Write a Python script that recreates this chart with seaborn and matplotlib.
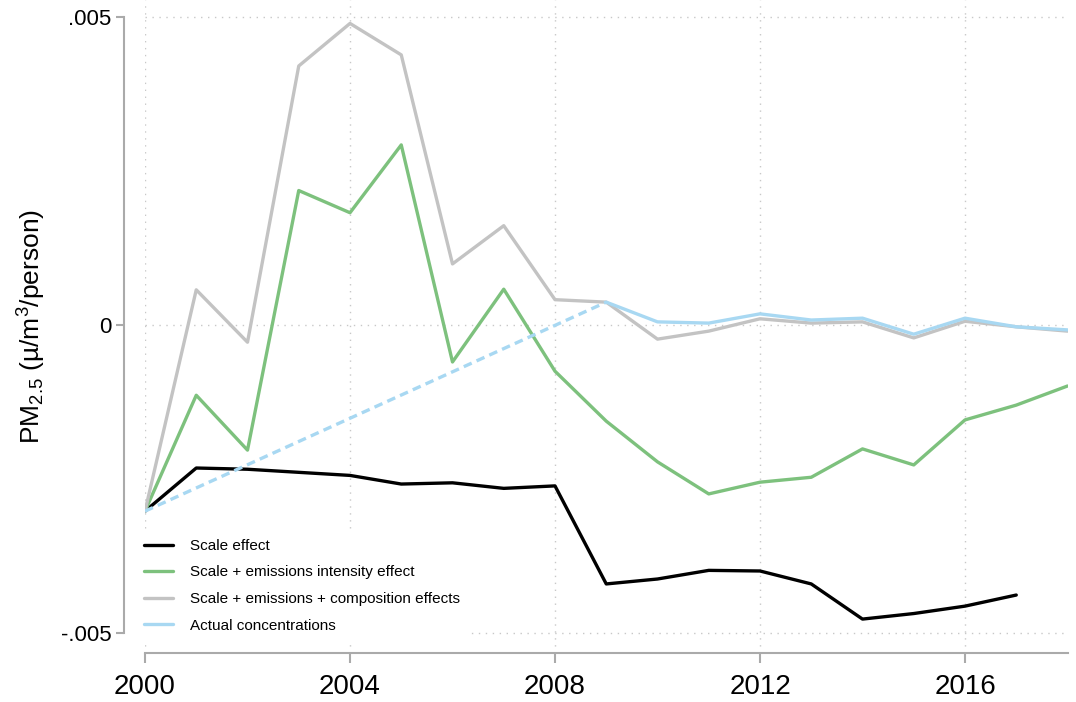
import numpy as np
import pandas as pd
import matplotlib
matplotlib.use("Agg")
import matplotlib.pyplot as plt
import seaborn as sns

years = list(range(2000, 2019))

# Scale effect (no value for 2018)
scale = [-0.00302, -0.00232, -0.00234, -0.00239, -0.00244, -0.00258, -0.00256,
         -0.00265, -0.00261, -0.00420, -0.00412, -0.00398, -0.00399, -0.00420,
         -0.00477, -0.00468, -0.00456, -0.00438]
scale_intensity = [-0.00302, -0.00114, -0.00203, 0.00218, 0.00182, 0.00292, -0.00060,
                   0.00058, -0.00075, -0.00156, -0.00222, -0.00274, -0.00255, -0.00247,
                   -0.00201, -0.00227, -0.00154, -0.00130, -0.00099]
scale_composition = [-0.00302, 0.00057, -0.00028, 0.00420, 0.00489, 0.00438, 0.00099,
                     0.00161, 0.00041, 0.00037, -0.00023, -0.00010, 0.00010, 0.00003,
                     0.00005, -0.00021, 0.00006, -0.00003, -0.00010]
# actual concentrations: 2000 then 2009 onward (gap drawn dashed)
actual_years = [2000, 2009, 2010, 2011, 2012, 2013, 2014, 2015, 2016, 2017, 2018]
actual = [-0.00302, 0.00037, 0.00005, 0.00003, 0.00018, 0.00008, 0.00011, -0.00015,
          0.00011, -0.00003, -0.00008]

labels = ["Scale effect", "Scale + emissions intensity effect",
          "Scale + emissions + composition effects", "Actual concentrations"]
colors = ["#000000", "#7dc17d", "#c3c3c3", "#a8d8f2"]

sns.set_style("white")
plt.rcParams['font.family'] = ['Liberation Sans', 'DejaVu Sans']
plt.rcParams['mathtext.fontset'] = 'custom'
plt.rcParams['mathtext.rm'] = 'Liberation Sans'
plt.rcParams['mathtext.it'] = 'Liberation Sans'
plt.rcParams['text.color'] = 'black'
plt.rcParams['axes.labelcolor'] = 'black'
plt.rcParams['xtick.color'] = 'black'
plt.rcParams['ytick.color'] = 'black'

fig = plt.figure(figsize=(10.76, 7.02), dpi=100)
ax = fig.add_axes([145 / 1076, 1 - 653 / 702, (1067.5 - 145) / 1076, 653 / 702])

lw = 2.4
sns.lineplot(x=years[:len(scale)], y=scale, ax=ax, color=colors[0], lw=lw)
sns.lineplot(x=years, y=scale_intensity, ax=ax, color=colors[1], lw=lw)
sns.lineplot(x=years, y=scale_composition, ax=ax, color=colors[2], lw=lw)
sns.lineplot(x=actual_years[:2], y=actual[:2], ax=ax, color=colors[3], lw=lw)
ax.lines[-1].set_dashes((2.6, 1.6))
sns.lineplot(x=actual_years[1:], y=actual[1:], ax=ax, color=colors[3], lw=lw)

ax.set_xlim(2000, 2018)
ax.set_ylim(-0.00532, 0.00527)
ax.set_xticks([2000, 2004, 2008, 2012, 2016])
ax.set_yticks([-0.005, 0, 0.005])
ax.set_yticklabels(["-.005", "0", ".005"])

ax.grid(True, linestyle=(0, (1, 4)), color="#c8c8c8", lw=1)
for s in ["top", "right"]:
    ax.spines[s].set_visible(False)
ax.spines["left"].set_position(("outward", 15))
ax.spines["left"].set_bounds(-0.005, 0.005)
ax.spines["bottom"].set_bounds(2000, 2018)
for s in ["left", "bottom"]:
    ax.spines[s].set_color("#aaaaaa")
    ax.spines[s].set_linewidth(1.5)

ax.tick_params(axis="x", bottom=True, length=7, width=1.5, color="#aaaaaa",
               labelcolor="black", labelsize=20, pad=8)
ax.tick_params(axis="y", left=True, length=6, width=1.5, color="#aaaaaa",
               labelcolor="black", labelsize=16, pad=3)

ax.set_ylabel(r"PM$_{2.5}$ (µ/m$^{3}$/person)", fontsize=19, color="black")
ax.yaxis.set_label_coords(-0.105, 0.5)

handles = [plt.Line2D([], [], color=c, lw=lw) for c in colors]
leg = ax.legend(handles, labels, loc="upper left", bbox_to_anchor=(-0.008, 0.184),
                frameon=True, fontsize=11, handlelength=1.9, handletextpad=1.1,
                labelspacing=0.82, borderaxespad=0.0, borderpad=0.4)
leg.get_frame().set_edgecolor("white")
leg.get_frame().set_facecolor("white")
leg.get_frame().set_alpha(1)
for t in leg.get_texts():
    t.set_color("black")

fig.savefig("out.png", dpi=100)
